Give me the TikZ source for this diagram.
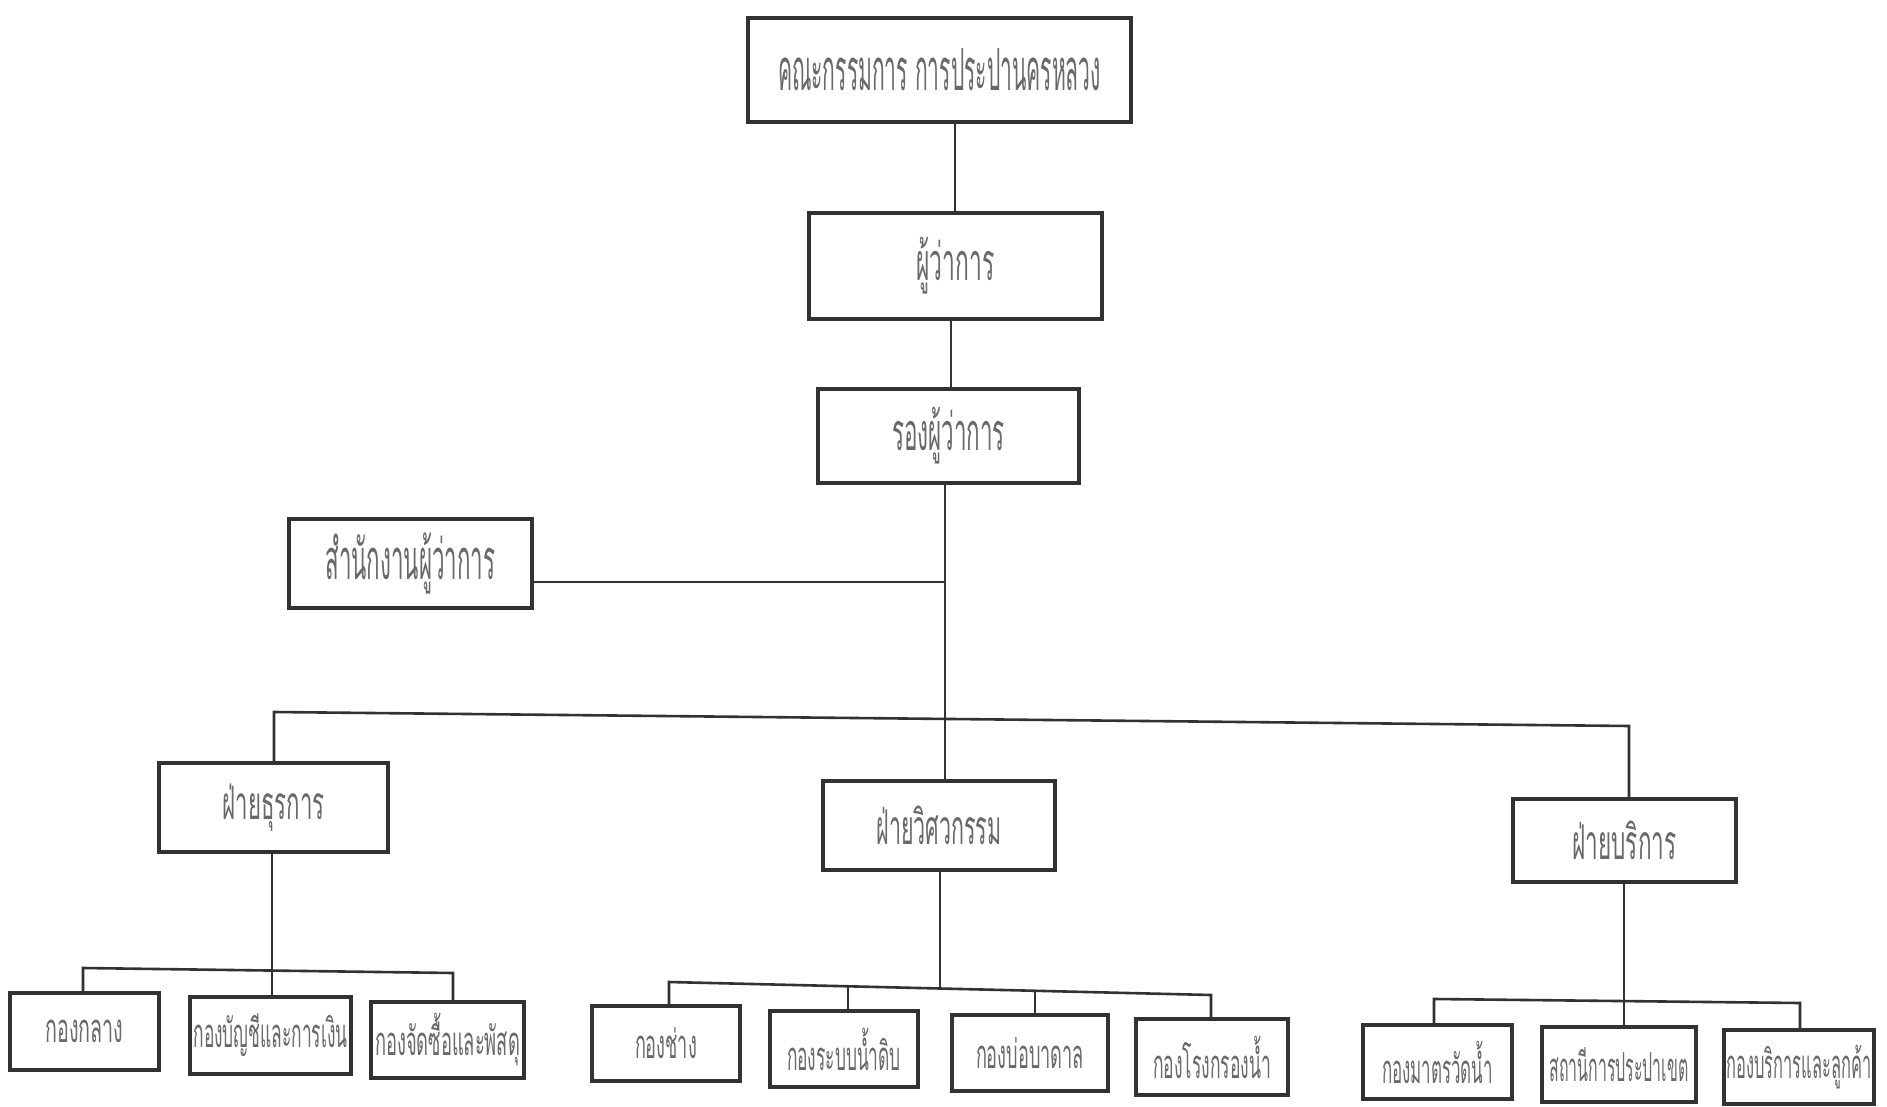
\documentclass[tikz,border=0pt]{standalone}
\usepackage{fontspec}
\usepackage{graphicx}
\newfontfamily\thai[Script=Thai]{Loma}
\definecolor{linec}{RGB}{50,50,50}
\definecolor{txtc}{RGB}{105,105,105}
\newcommand{\tx}[3]{{\fontsize{#1}{#1}\selectfont\resizebox{#2pt}{\height}{#3}}}
\begin{document}
\begin{tikzpicture}[x=1pt,y=-1pt,
  box/.style={draw=linec, line width=3.2pt, inner sep=0pt, text=txtc, font=\thai, fill=white},
  conn/.style={draw=linec, line width=2.6pt}]
\fill[white] (0,0) rectangle (1887,1107);
\useasboundingbox (0,0) rectangle (1887,1107);
% top levels
\node[box, minimum width=383pt, minimum height=104pt] (top) at (939.5,70) {\tx{58}{323}{คณะกรรมการ การประปานครหลวง}};
\node[box, minimum width=293pt, minimum height=106pt] (gov) at (955.5,266) {\tx{52}{78}{ผู้ว่าการ}};
\node[box, minimum width=261pt, minimum height=94pt] (dep) at (948.5,436) {\tx{52}{113}{รองผู้ว่าการ}};
\node[box, minimum width=243pt, minimum height=89pt] (office) at (410.5,563.5) {\tx{56}{170}{สำนักงานผู้ว่าการ}};
% departments
\node[box, minimum width=229pt, minimum height=89pt] (adm) at (273.5,807.5) {\tx{46}{102}{ฝ่ายธุรการ}};
\node[box, minimum width=232pt, minimum height=89pt] (eng) at (939,825.5) {\tx{48}{125}{ฝ่ายวิศวกรรม}};
\node[box, minimum width=223pt, minimum height=83pt] (svc) at (1624.5,840.5) {\tx{48}{104}{ฝ่ายบริการ}};
% divisions
\node[box, minimum width=149pt, minimum height=77pt] (g1) at (84.5,1031.5) {\tx{40}{78}{กองกลาง}};
\node[box, minimum width=161pt, minimum height=77pt] (g2) at (270.5,1035.5) {\tx{40}{154}{กองบัญชีและการเงิน}};
\node[box, minimum width=153pt, minimum height=76pt] (g3) at (447.5,1040) {\tx{40}{145}{กองจัดซื้อและพัสดุ}};
\node[box, minimum width=148pt, minimum height=75pt] (m1) at (666,1043.5) {\tx{40}{62}{กองช่าง}};
\node[box, minimum width=148pt, minimum height=76pt] (m2) at (844,1049) {\tx{40}{114}{กองระบบน้ำดิบ}};
\node[box, minimum width=156pt, minimum height=76pt] (m3) at (1030,1053) {\tx{40}{108}{กองบ่อบาดาล}};
\node[box, minimum width=152pt, minimum height=76pt] (m4) at (1212,1057) {\tx{40}{118}{กองโรงกรองน้ำ}};
\node[box, minimum width=149pt, minimum height=74pt] (r1) at (1437.5,1062) {\tx{40}{111}{กองมาตรวัดน้ำ}};
\node[box, minimum width=154pt, minimum height=75pt] (r2) at (1619,1064.5) {\tx{40}{139}{สถานีการประปาเขต}};
\node[box, minimum width=150pt, minimum height=74pt] (r3) at (1799,1067) {\tx{40}{145}{กองบริการและลูกค้า}};
% junction coordinates
\coordinate (a1) at (955,0);
\coordinate (a2) at (951,0);
\coordinate (a3) at (945,0);
\coordinate (of) at (945,582);
\coordinate (bl) at (274,712);
\coordinate (br) at (1629,726);
\coordinate (lb1) at (83,968);
\coordinate (lb2) at (272,970.5);
\coordinate (lb3) at (453,973);
\coordinate (mb1) at (669,982);
\coordinate (mb2) at (848,986.3);
\coordinate (mbe) at (940,988.5);
\coordinate (mb3) at (1035,990.8);
\coordinate (mb4) at (1211,995);
\coordinate (rb1) at (1434,999);
\coordinate (rb2) at (1624,1001);
\coordinate (rb3) at (1800,1003);
% connectors
\draw[conn] (top.south -| a1) -- (gov.north -| a1);
\draw[conn] (gov.south -| a2) -- (dep.north -| a2);
\draw[conn] (dep.south -| a3) -- (eng.north -| a3);
\draw[conn] (office.east |- of) -- (of);
\draw[conn] (adm.north -| bl) -- (bl) -- (br) -- (svc.north -| br);
\draw[conn] (adm.south -| lb2) -- (lb2) -- (g2.north -| lb2);
\draw[conn] (g1.north -| lb1) -- (lb1) -- (lb3) -- (g3.north -| lb3);
\draw[conn] (eng.south -| mbe) -- (mbe);
\draw[conn] (m1.north -| mb1) -- (mb1) -- (mb4) -- (m4.north -| mb4);
\draw[conn] (mb2) -- (m2.north -| mb2);
\draw[conn] (mb3) -- (m3.north -| mb3);
\draw[conn] (svc.south -| rb2) -- (rb2) -- (r2.north -| rb2);
\draw[conn] (r1.north -| rb1) -- (rb1) -- (rb3) -- (r3.north -| rb3);
\end{tikzpicture}
\end{document}
